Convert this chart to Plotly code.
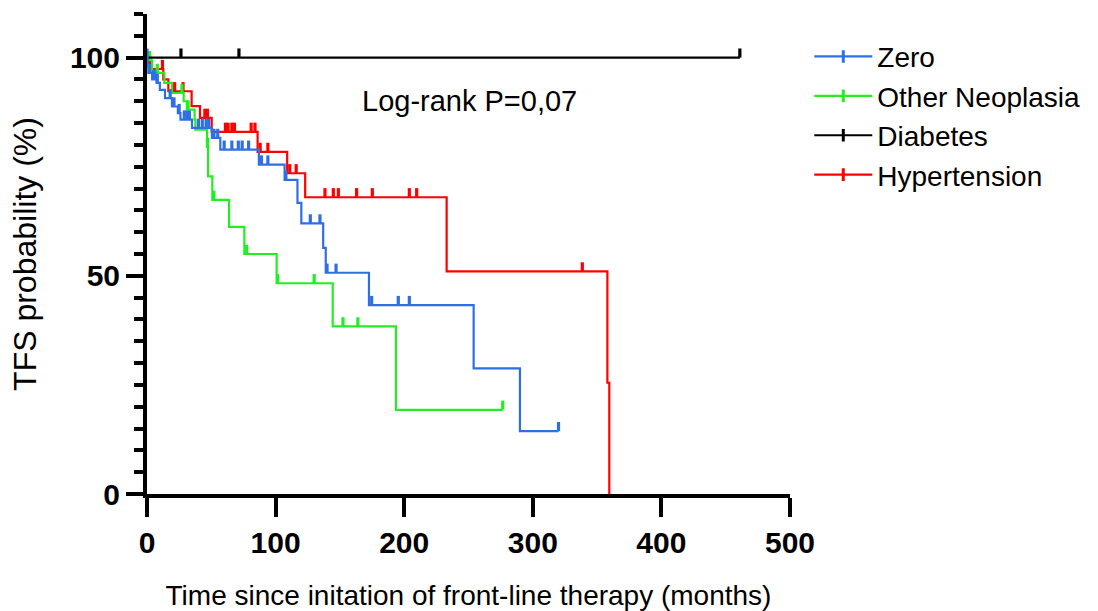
import plotly.graph_objects as go

# ---------------- data ----------------
# Zero
zero_times = [0, 0.5, 1, 4, 7.5, 10, 14, 19.4, 24, 26, 35, 50.5, 57, 87, 107, 117, 120, 137, 139, 172.6, 254, 290]
zero_surv = [100, 98, 96.5, 95, 94.2, 92.6, 90.7, 88.8, 87.3, 85.8, 83.9, 81.6, 78.9, 75.5, 72, 66.7, 62, 56.4, 50.7, 43.3, 28.8, 14.4]
zero_end = 320
zero_censor = [0, 2, 5, 6, 8, 18, 21, 25, 29, 31, 33, 40, 43, 46, 48, 52, 55, 60, 66, 71, 74, 79,
               89, 94, 108, 127, 134.5, 140, 147, 174.7, 195.4, 204, 320]

# Other Neoplasia
neo_times = [0, 1, 4, 13.5, 19.4, 28.5, 31, 37, 37.6, 46.7, 47.5, 50.8, 63.8, 75.7, 100.8, 144.4, 193.6]
neo_surv = [100, 99.4, 96.5, 94.2, 91.9, 90, 88.1, 85.8, 83.5, 79.5, 72.8, 67.4, 61.2, 55, 48.3, 38.4, 19.3]
neo_end = 276.6
neo_censor = [2, 8, 27.2, 32, 47, 52, 77.5, 101.6, 130, 152.4, 164, 276.6]

# Diabetes
dia_times = [0]
dia_surv = [100]
dia_end = 461
dia_censor = [26.4, 71.5, 461]

# Hypertension
hyp_times = [0, 1, 3, 12.7, 16.6, 34.7, 41.2, 50.3, 86, 109, 123, 233, 358, 359.5]
hyp_surv = [100, 98.5, 97.4, 95, 92.3, 88.9, 86.2, 83, 78.4, 73.5, 68, 51, 25.5, 0]
hyp_end = 359.5
hyp_censor = [2, 12, 21.5, 28, 45, 47, 61, 63, 66, 68, 81, 84, 88, 94, 111, 116,
              138.4, 144.9, 148.8, 163, 175.2, 204, 209.7, 338.5]

x_ticks = [0, 100, 200, 300, 400, 500]
y_ticks = [0, 50, 100]
pvalue_text = "Log-rank P=0,07"

# ---------------- styling ----------------
FONT = "Liberation Sans, Arial, Helvetica, sans-serif"
TICK_H = 2.1  # height of censor tick in % units

series = [
    # name, times, surv, end, censor, colour, legend rank
    ("Hypertension", hyp_times, hyp_surv, hyp_end, hyp_censor, "#ff0000", 4),
    ("Other Neoplasia", neo_times, neo_surv, neo_end, neo_censor, "#22ee22", 2),
    ("Diabetes", dia_times, dia_surv, dia_end, dia_censor, "#000000", 3),
    ("Zero", zero_times, zero_surv, zero_end, zero_censor, "#2f6fe6", 1),
]


def surv_at(times, surv, t):
    s = surv[0]
    for ti, si in zip(times, surv):
        if ti <= t:
            s = si
    return s


fig = go.Figure()
for name, times, surv, end, cens, col, rank in series:
    xs = list(times) + [end]
    ys = list(surv) + [surv[-1]]
    fig.add_trace(go.Scatter(x=xs, y=ys, mode="lines", line=dict(color=col, width=2.2, shape="hv"),
                             showlegend=False, hoverinfo="skip"))
    cx, cy = [], []
    for t in cens:
        s = surv_at(times, surv, t)
        cx += [t, t, None]
        cy += [s, s + TICK_H, None]
    fig.add_trace(go.Scatter(x=cx, y=cy, mode="lines", line=dict(color=col, width=3.2),
                             showlegend=False, hoverinfo="skip"))

for name, times, surv, end, cens, col, rank in series:
    fig.add_trace(go.Scatter(x=[None], y=[None], mode="lines+markers", name=name, legendrank=rank,
                             line=dict(color=col, width=2.2),
                             marker=dict(symbol="line-ns", size=9, line=dict(color=col, width=3))))

fig.add_annotation(x=251, y=90, text=pvalue_text, showarrow=False,
                   font=dict(family=FONT, size=29, color="black"))

fig.update_layout(
    width=1098, height=611,
    margin=dict(l=147, r=308, t=14, b=117, autoexpand=False),
    paper_bgcolor="white", plot_bgcolor="white",
    font=dict(family=FONT, color="black"),
    showlegend=True,
    legend=dict(x=1.03, y=0.963, xanchor="left", yanchor="top",
                font=dict(family=FONT, size=28, color="black"),
                bgcolor="rgba(0,0,0,0)", itemwidth=58, tracegroupgap=0),
    xaxis=dict(range=[0, 500], tickvals=x_ticks, ticks="outside", ticklen=19, tickwidth=4,
               tickcolor="black", showline=True, linewidth=4, linecolor="black",
               showgrid=False, zeroline=False, automargin=False,
               tickfont=dict(family=FONT, size=30, color="black", weight="bold"),
               title=dict(text="Time since initation of front-line therapy (months)",
                          font=dict(family=FONT, size=28, color="black"), standoff=30)),
    yaxis=dict(range=[0, 110], tickvals=y_ticks, ticks="outside", ticklen=17, tickwidth=4,
               tickcolor="black", showline=True, linewidth=4, linecolor="black",
               showgrid=False, zeroline=False, automargin=False,
               minor=dict(dtick=5, ticklen=9, tickwidth=4, tickcolor="black", ticks="outside"),
               tickfont=dict(family=FONT, size=30, color="black", weight="bold"),
               title=dict(text="TFS probability (%)",
                          font=dict(family=FONT, size=32, color="black"), standoff=25)),
)

fig.write_html("out.html")
